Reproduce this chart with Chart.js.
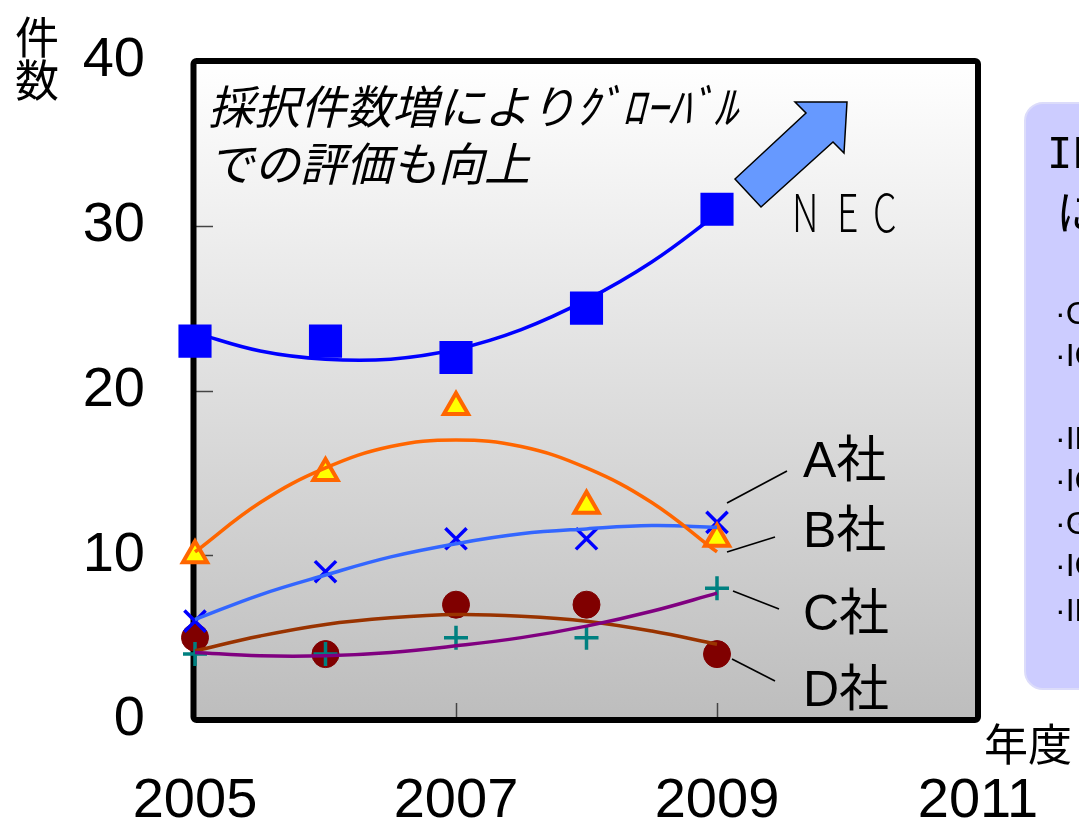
<!DOCTYPE html>
<html><head><meta charset="utf-8">
<script src="https://cdn.jsdelivr.net/npm/chart.js@4.4.1/dist/chart.umd.min.js"></script>
<style>html,body{margin:0;padding:0;background:#fff;overflow:hidden}#wrap{width:1079px;height:828px;position:relative}</style>
</head><body><div id="wrap"><canvas id="c"></canvas></div>
<script>
const years = [2005, 2006, 2007, 2008, 2009];
const necValues = [23, 23, 22, 25, 31];
const companyAValues = [6, 9, 11, 11, 12];
const companyBValues = [10, 15, 19, 13, 11];
const companyCValues = [4, 4, 5, 5, 8];
const companyDValues = [5, 4, 7, 7, 4];
const trendYears = [2005, 2005.5, 2006, 2006.5, 2007, 2007.5, 2008, 2008.5, 2009];
const necTrend = [23.5, 22.4, 21.9, 21.9, 22.5, 23.7, 25.5, 27.8, 30.7];
const aTrend = [6.1, 7.6, 8.8, 9.9, 10.7, 11.3, 11.6, 11.8, 11.7];
const bTrend = [10.2, 13.2, 15.3, 16.6, 17.0, 16.6, 15.3, 13.2, 10.2];
const cTrend = [4.1, 3.9, 3.9, 4.1, 4.5, 5.0, 5.7, 6.6, 7.7];
const dTrend = [4.2, 5.1, 5.8, 6.2, 6.4, 6.3, 6.0, 5.4, 4.6];
const xTickValues = [2005, 2007, 2009, 2011];
const yTickValues = [0, 10, 20, 30, 40];
const companyLabels = ['A社', 'B社', 'C社', 'D社'];
const boxLines = ['·CVPR', '·ICCV', '', '·IMC', '·ICME', '·GLOBECOM', '·ICC', '·IFIP'];

const pts = (xs, ys) => xs.map((x, i) => ({x: x, y: ys[i]}));
const LATIN = '"Liberation Sans", Arial, sans-serif';
const CJK = '"Noto Sans CJK JP", sans-serif';
const MIX = '"Liberation Sans", "Noto Sans CJK JP", sans-serif';

function markerSet(data, style, radius, fill, stroke, bw) {
  return {data: pts(years, data), showLine: false, pointStyle: style, pointRadius: radius,
    pointBackgroundColor: fill, pointBorderColor: stroke, pointBorderWidth: bw, clip: false, order: 2};
}
function trendSet(data, color) {
  return {data: pts(trendYears, data), showLine: true, pointRadius: 0, borderColor: color,
    borderWidth: 3.5, tension: 0.4, fill: false, clip: false, order: 1};
}

const deco = {
  id: 'deco',
  beforeDraw(chart) {
    const {ctx, chartArea: a} = chart;
    const g = ctx.createLinearGradient(0, a.top, 0, a.bottom);
    g.addColorStop(0, '#ffffff');
    g.addColorStop(1, '#bdbdbd');
    ctx.save();
    ctx.fillStyle = g;
    ctx.fillRect(a.left, a.top, a.right - a.left, a.bottom - a.top);
    ctx.restore();
  },
  beforeDatasetsDraw(chart) {
    const {ctx, chartArea: a, scales: {x, y}} = chart;
    ctx.save();
    ctx.strokeStyle = '#444';
    ctx.lineWidth = 1.5;
    [10, 20, 30].forEach(v => {
      const py = Math.round(y.getPixelForValue(v)) + 0.5;
      ctx.beginPath(); ctx.moveTo(a.left, py); ctx.lineTo(a.left + 18, py); ctx.stroke();
    });
    [2007, 2009].forEach(v => {
      const px = Math.round(x.getPixelForValue(v)) + 0.5;
      ctx.beginPath(); ctx.moveTo(px, a.bottom); ctx.lineTo(px, a.bottom - 17); ctx.stroke();
    });
    ctx.strokeStyle = '#000';
    ctx.lineWidth = 6;
    ctx.lineJoin = 'round';
    ctx.beginPath();
    ctx.roundRect(a.left - 1.5, a.top, a.right - a.left + 1.5, a.bottom - a.top, 3);
    ctx.stroke();
    ctx.restore();
  },
  afterDraw(chart) {
    const {ctx} = chart;
    ctx.save();
    ctx.fillStyle = '#000';
    ctx.textAlign = 'center';
    ctx.textBaseline = 'middle';
    ctx.font = '44px ' + CJK;
    ctx.fillText('件', 37, 37);
    ctx.fillText('数', 37, 80);
    ctx.fillText('年度', 1028, 744);

    ctx.textAlign = 'left';
    ctx.font = 'italic 46px ' + CJK;
    ctx.fillText('採択件数増によりｸﾞﾛｰﾊﾞﾙ', 208, 107);
    ctx.fillText('での評価も向上', 208, 164);

    const arrow = [[735,179],[806,113],[795,102],[847,102],[844,153],[833,142],[761,207]];
    ctx.beginPath();
    arrow.forEach((p, i) => i ? ctx.lineTo(p[0], p[1]) : ctx.moveTo(p[0], p[1]));
    ctx.closePath();
    ctx.fillStyle = '#6699ff';
    ctx.fill();
    ctx.strokeStyle = '#000';
    ctx.lineWidth = 1.5;
    ctx.lineJoin = 'miter';
    ctx.stroke();

    ctx.fillStyle = '#000';
    ctx.font = '300 52px ' + CJK;
    ctx.textBaseline = 'alphabetic';
    [['N', 792], ['E', 837], ['C', 873]].forEach(([t, px]) => {
      ctx.save(); ctx.translate(px, 232); ctx.scale(0.72, 1); ctx.fillText(t, 0, 0); ctx.restore();
    });

    ctx.strokeStyle = '#000';
    ctx.lineWidth = 1.6;
    [[727,503,787,471],[727,552,775,537],[733,591,779,609],[732,659,775,681]].forEach(l => {
      ctx.beginPath(); ctx.moveTo(l[0], l[1]); ctx.lineTo(l[2], l[3]); ctx.stroke();
    });
    ctx.font = '50px ' + MIX;
    const baselines = [477, 547, 630, 706];
    companyLabels.forEach((t, i) => ctx.fillText(t, 803, baselines[i]));

    ctx.beginPath();
    ctx.roundRect(1025, 103, 120, 586, 18);
    ctx.fillStyle = '#ccccff';
    ctx.fill();
    ctx.strokeStyle = '#dcdcfa';
    ctx.lineWidth = 2;
    ctx.stroke();
    ctx.fillStyle = '#000';
    ctx.textBaseline = 'middle';
    ctx.font = '42px "DejaVu Sans Mono", monospace';
    ctx.fillText('IEEE', 1047, 157);
    ctx.font = '46px ' + CJK;
    ctx.fillText('に', 1056, 212);
    ctx.font = '32px ' + LATIN;
    const ly = [315, 357, 399, 440, 482, 525, 567, 612];
    boxLines.forEach((t, i) => { if (t) ctx.fillText(t, 1055, ly[i]); });
    ctx.restore();
  }
};

new Chart(document.getElementById('c'), {
  type: 'line',
  data: {
    datasets: [
      markerSet(necValues, 'rect', 22, '#0000ff', '#0000ff', 2),
      markerSet(companyBValues, 'triangle', 14, '#ffff00', '#ff6600', 4),
      markerSet(companyAValues, 'crossRot', 15, '#0000ff', '#0000ff', 3.5),
      markerSet(companyCValues, 'cross', 12, '#008080', '#008080', 3.5),
      markerSet(companyDValues, 'circle', 13.5, '#800000', '#800000', 1),
      trendSet(necTrend, '#0000ff'),
      trendSet(bTrend, '#ff6600'),
      trendSet(aTrend, '#3366ff'),
      trendSet(cTrend, '#800080'),
      trendSet(dTrend, '#993300')
    ]
  },
  options: {
    responsive: true,
    maintainAspectRatio: false,
    animation: false,
    events: [],
    layout: {padding: {top: 61, right: 101, left: 0, bottom: 0}},
    plugins: {legend: {display: false}, tooltip: {enabled: false}},
    scales: {
      x: {
        type: 'linear', min: 2005, max: 2011,
        afterFit: s => { s.height = 108; s.paddingLeft = 0; s.paddingRight = 0; s.paddingTop = 0; s.paddingBottom = 0; },
        afterBuildTicks: s => { s.ticks = xTickValues.map(v => ({value: v})); },
        ticks: {callback: v => String(v), font: {family: LATIN, size: 56}, color: '#000', padding: 48, maxRotation: 0, autoSkip: false},
        grid: {display: false, drawTicks: false}, border: {display: false}
      },
      y: {
        min: 0, max: 40,
        afterFit: s => { s.width = 195; s.paddingLeft = 0; s.paddingRight = 0; s.paddingTop = 0; s.paddingBottom = 0; },
        afterBuildTicks: s => { s.ticks = yTickValues.map(v => ({value: v})); },
        ticks: {font: {family: LATIN, size: 56}, color: '#000', padding: 50},
        grid: {display: false, drawTicks: false}, border: {display: false}
      }
    }
  },
  plugins: [deco]
});
</script></body></html>
